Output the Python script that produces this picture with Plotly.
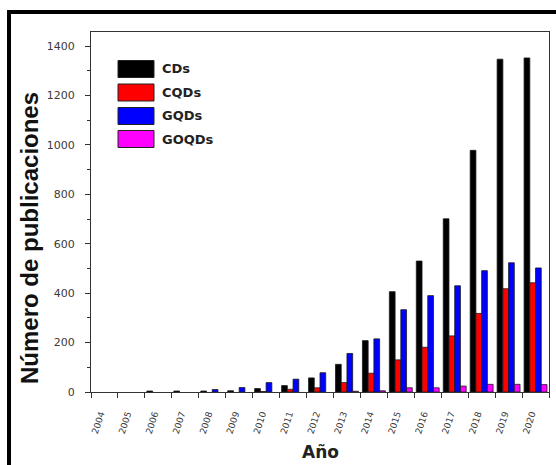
import plotly.graph_objects as go

# Publications per year and per nanomaterial type
years = list(range(2004, 2021))
series_names = ["CDs", "CQDs", "GQDs", "GOQDs"]
cds = [0, 0, 4, 4, 4, 5, 14, 26, 57, 112, 208, 406, 530, 701, 978, 1347, 1352]
cqds = [0, 0, 0, 0, 0, 0, 2, 11, 17, 38, 76, 130, 181, 227, 318, 418, 442]
gqds = [0, 0, 0, 0, 10, 18, 38, 52, 78, 156, 215, 333, 390, 430, 491, 523, 502]
goqds = [0, 0, 0, 0, 0, 0, 0, 0, 0, 3, 5, 17, 17, 24, 31, 31, 30]
series_values = [cds, cqds, gqds, goqds]
colors = ["#000000", "#ff0000", "#0000ff", "#ff00ff"]
year_labels = [str(y) for y in years]

# plot-area geometry in pixels (used to place frame and legend in paper units)
W, H = 556, 465
L, R, T, B = 91, 7, 32, 73
PW, PH = W - L - R, H - T - B


def px(x):
    return (x - L) / PW


def py(y):
    return (H - B - y) / PH


fig = go.Figure()
for name, vals, col in zip(series_names, series_values, colors):
    fig.add_trace(go.Bar(
        x=[y + 0.5 for y in years], y=vals, name=name,
        marker=dict(color=col,
                    line=dict(color="#1a1a1a",
                              width=[0.8 if v > 0 else 0 for v in vals])),
        showlegend=False,
    ))

axis_col = "#333333"
fig.update_layout(
    width=W, height=H,
    margin=dict(l=L, r=R, t=T, b=B),
    paper_bgcolor="white", plot_bgcolor="white",
    barmode="group", bargap=0.15, bargroupgap=0,
    font=dict(family="DejaVu Sans", color="#333333"),
    xaxis=dict(
        range=[2004, 2021],
        tickmode="array", tickvals=[y + 0.35 for y in years], ticktext=year_labels,
        ticks="", tickangle=-72,
        tickfont=dict(family="DejaVu Sans", size=9, color="#3a3a3a"),
        ticklabelstandoff=12,
        showline=True, linecolor=axis_col, linewidth=1.3, mirror=True,
        showgrid=False, zeroline=False,
        minor=dict(tickmode="array", tickvals=years + [2021], ticks="outside",
                   ticklen=5, tickwidth=1.3, tickcolor=axis_col, showgrid=False),
    ),
    yaxis=dict(
        range=[0, 1457],
        tickmode="linear", tick0=0, dtick=200,
        ticks="outside", ticklen=5, tickwidth=1.3, tickcolor=axis_col,
        tickfont=dict(family="DejaVu Sans", size=11, color="#3a3a3a"),
        ticklabelstandoff=8,
        showline=True, linecolor=axis_col, linewidth=1.3, mirror=True,
        showgrid=False, zeroline=False,
        minor=dict(tickmode="linear", tick0=100, dtick=200, ticks="outside",
                   ticklen=3, tickwidth=1.2, tickcolor=axis_col, showgrid=False),
    ),
)

# axis titles
fig.add_annotation(
    text="<b>Número de publicaciones</b>", textangle=-90,
    xref="paper", yref="paper", x=px(29), y=py(238),
    xanchor="center", yanchor="middle",
    showarrow=False, font=dict(family="Liberation Sans", size=24, color="#111111"),
)
fig.add_annotation(
    text="<b>Año</b>",
    xref="paper", yref="paper", x=px(320), y=py(452),
    xanchor="center", yanchor="middle",
    showarrow=False, font=dict(family="DejaVu Sans", size=17, color="#222222"),
)

# outer frame around the figure
fig.add_shape(type="rect", xref="paper", yref="paper",
              x0=px(9), x1=px(W + 20), y0=py(H + 20), y1=py(12),
              line=dict(color="black", width=4), fillcolor="rgba(0,0,0,0)",
              layer="above")

# legend: colour swatches with labels
row_y = [69, 92.5, 116, 139]
for name, col, ry in zip(series_names, colors, row_y):
    fig.add_shape(type="rect", xref="paper", yref="paper",
                  x0=px(118), x1=px(154), y0=py(ry + 8.5), y1=py(ry - 8.5),
                  line=dict(color="#222222", width=1), fillcolor=col)
    fig.add_annotation(text="<b>%s</b>" % name, xref="paper", yref="paper",
                       x=px(160), y=py(ry), xanchor="left", yanchor="middle",
                       showarrow=False,
                       font=dict(family="DejaVu Sans", size=13, color="#222222"))

fig.write_html("out.html")
